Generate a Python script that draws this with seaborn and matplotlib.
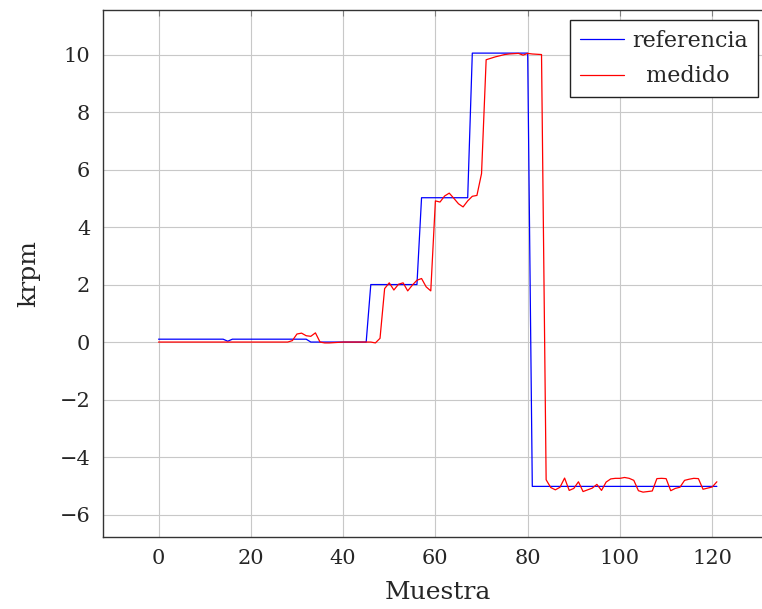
import numpy as np
import pandas as pd
import matplotlib
matplotlib.use("Agg")
import matplotlib.pyplot as plt
import seaborn as sns

# sample index 0..121
muestra = list(range(122))

referencia = [
    0.1, 0.1, 0.1, 0.1, 0.1, 0.1, 0.1, 0.1, 0.1, 0.1, 0.1, 0.1, 0.1, 0.1, 0.1,
    0.03,
    0.1, 0.1, 0.1, 0.1, 0.1, 0.1, 0.1, 0.1, 0.1, 0.1, 0.1, 0.1, 0.1, 0.1, 0.1, 0.1, 0.1,
    0.0, 0.0, 0.0, 0.0, 0.0, 0.0, 0.0, 0.0, 0.0, 0.0, 0.0, 0.0, 0.0,
    2.0, 2.0, 2.0, 2.0, 2.0, 2.0, 2.0, 2.0, 2.0, 2.0, 2.0,
    5.02, 5.02, 5.02, 5.02, 5.02, 5.02, 5.02, 5.02, 5.02, 5.02, 5.02,
    10.05, 10.05, 10.05, 10.05, 10.05, 10.05, 10.05, 10.05, 10.05, 10.05, 10.05, 10.05, 10.05,
    -5.02, -5.02, -5.02, -5.02, -5.02, -5.02, -5.02, -5.02, -5.02, -5.02,
    -5.02, -5.02, -5.02, -5.02, -5.02, -5.02, -5.02, -5.02, -5.02, -5.02,
    -5.02, -5.02, -5.02, -5.02, -5.02, -5.02, -5.02, -5.02, -5.02, -5.02,
    -5.02, -5.02, -5.02, -5.02, -5.02, -5.02, -5.02, -5.02, -5.02, -5.02,
    -5.02,
]

medido = [
    0.0, 0.0, 0.0, 0.0, 0.0, 0.0, 0.0, 0.0, 0.0, 0.0,
    0.0, 0.0, 0.0, 0.0, 0.0, 0.0, 0.0, 0.0, 0.0, 0.0,
    0.0, 0.0, 0.0, 0.0, 0.0, 0.0, 0.0, 0.0, 0.0,
    0.05, 0.28, 0.31, 0.22, 0.2, 0.32, 0.0, -0.03, -0.03, -0.02, -0.01,
    0.0, 0.0, 0.0, 0.0, 0.0, 0.0, 0.0,
    -0.03, 0.13, 1.86, 2.06, 1.81, 2.01, 2.06, 1.78, 1.98, 2.15, 2.21, 1.92, 1.78,
    4.91, 4.87, 5.08, 5.18, 5.0, 4.81, 4.70, 4.91, 5.07, 5.1, 5.86,
    9.82, 9.87, 9.92, 9.96, 10.0, 10.02, 10.03, 10.04, 9.98, 10.04, 10.02, 10.01, 10.0,
    -4.79, -5.06, -5.14, -5.05, -4.73, -5.16, -5.09, -4.86, -5.2, -5.14,
    -5.08, -4.95, -5.16, -4.87, -4.76, -4.74, -4.74, -4.71, -4.74, -4.81,
    -5.17, -5.22, -5.2, -5.18, -4.75, -4.74, -4.75, -5.17, -5.09, -5.05,
    -4.81, -4.77, -4.74, -4.75, -5.12, -5.08, -5.04, -4.86,
]

df = pd.DataFrame({"Muestra": muestra, "referencia": referencia, "medido": medido})

sns.set_style("whitegrid")
plt.rcParams['font.family'] = ['DejaVu Serif', 'Liberation Serif']
plt.rcParams['axes.unicode_minus'] = True

fig = plt.figure(figsize=(7.62, 6.09), dpi=100)
# axes box runs past the right edge, like the cropped original
ax = fig.add_axes([102.7 / 762, 72.3 / 609, 670 / 762, 527 / 609])

sns.lineplot(data=df, x="Muestra", y="referencia", color="blue", lw=0.9, ax=ax, label="referencia")
sns.lineplot(data=df, x="Muestra", y="medido", color="red", lw=0.9, ax=ax, label="medido")

ax.set_xlim(-12.1, 133.1)
ax.set_ylim(-6.77, 11.56)
ax.set_xticks(range(0, 121, 20))
ax.set_yticks(range(-6, 11, 2))

ax.grid(True, color="#c8c8c8", lw=0.8)
for side in ["left", "bottom", "top", "right"]:
    ax.spines[side].set_visible(True)
    ax.spines[side].set_color("#333333")
    ax.spines[side].set_linewidth(1.0)

ax.tick_params(axis="both", direction="in", length=4, width=0.8, color="#808080",
               labelsize=15, top=True, right=True, pad=9)

ax.set_xlabel("Muestra", fontsize=18, labelpad=9)
ax.set_ylabel("krpm", fontsize=18, labelpad=14)

leg = ax.legend(loc="upper right", bbox_to_anchor=(757.7 / 762, 1 - 20 / 609),
                bbox_transform=fig.transFigure, borderaxespad=0, fontsize=16,
                frameon=True, fancybox=False, handlelength=2.0, handletextpad=0.35,
                borderpad=0.45, labelspacing=0.6)
leg.get_frame().set_edgecolor("#222222")
leg.get_frame().set_linewidth(1.0)
leg.get_frame().set_alpha(1)
# pgfplots centres the legend entries
leg.get_texts()[1].set_text("  medido")

fig.savefig("out.png", dpi=100)
